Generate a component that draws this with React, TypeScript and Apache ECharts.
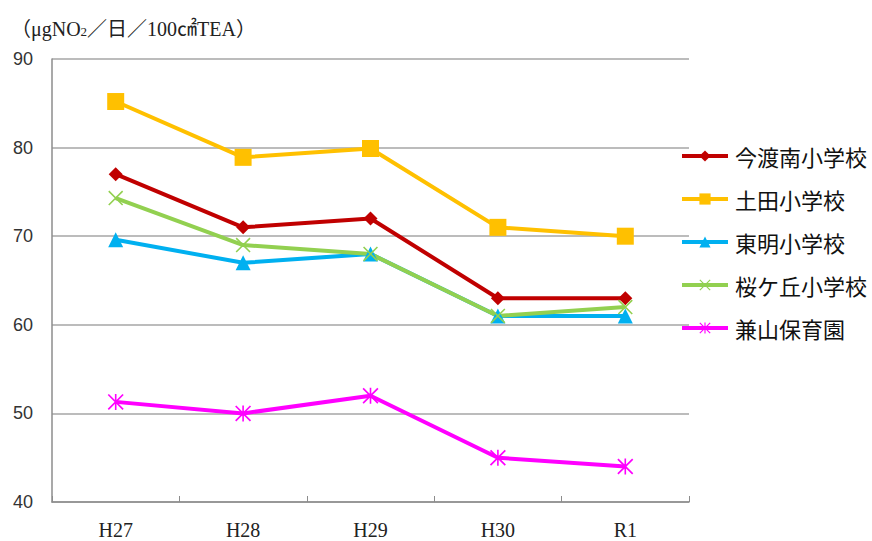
import React, { useEffect, useRef } from "react";
import * as echarts from "echarts";

const categories = ["H27", "H28", "H29", "H30", "R1"];
const seriesNames = ["今渡南小学校", "土田小学校", "東明小学校", "桜ケ丘小学校", "兼山保育園"];
const imawatariMinami = [77, 71, 72, 63, 63];
const tsuchida = [85.2, 78.9, 79.9, 71, 70];
const tomei = [69.6, 67, 68, 61, 61];
const sakuragaoka = [74.3, 69, 68, 61, 62];
const kaneyama = [51.3, 50, 52, 45, 44];
const yTicks = { min: 40, max: 90, interval: 10 };

const X_PATH =
  "path://M0,1.5L1.5,0L20,18.5L18.5,20ZM18.5,0L20,1.5L1.5,20L0,18.5Z";
const STAR_PATH =
  "path://M0,1.5L1.5,0L20,18.5L18.5,20ZM18.5,0L20,1.5L1.5,20L0,18.5ZM9,0L11,0L11,20L9,20Z";

export default function App() {
  const ref = useRef<HTMLDivElement>(null);
  useEffect(() => {
    if (!ref.current) return;
    const chart = echarts.init(ref.current, undefined, { renderer: "svg" });
    const mk = (name: string, data: number[], color: string, symbol: string, size: number) => ({
      name,
      type: "line",
      data,
      symbol,
      symbolSize: size,
      lineStyle: { color, width: 4 },
      itemStyle: { color },
      emphasis: { disabled: true },
    });
    chart.setOption({
      animation: false,
      title: {
        text: "（μgNO{s|2}／日／100㎠TEA）",
        left: 6,
        top: 14,
        padding: [5, 5, 5, 5],
        textStyle: {
          fontFamily: "'Liberation Serif', 'Noto Sans CJK JP', serif",
          fontSize: 20,
          fontWeight: "normal",
          color: "#222",
          rich: {
            s: {
              fontFamily: "'Liberation Serif', serif",
              fontSize: 13,
              color: "#222",
              padding: [6, 0, 0, 0],
            },
          },
        },
      },
      legend: {
        orient: "vertical",
        left: 680,
        top: 145,
        padding: 0,
        itemWidth: 46,
        itemHeight: 14,
        itemGap: 21,
        lineStyle: { width: 4 },
        textStyle: {
          fontFamily: "'Noto Sans CJK JP', sans-serif",
          fontSize: 22,
          color: "#111",
          padding: [0, 0, 0, 2],
        },
        data: seriesNames,
      },
      grid: { left: 52, right: 183, top: 59, bottom: 39, containLabel: false },
      xAxis: {
        type: "category",
        data: categories,
        boundaryGap: true,
        axisLine: { lineStyle: { color: "#8c8c8c", width: 1.5 } },
        axisTick: { show: true, inside: true, length: 6, lineStyle: { color: "#8c8c8c" } },
        axisLabel: {
          margin: 18,
          fontFamily: "'Liberation Serif', serif",
          fontSize: 20,
          color: "#222",
        },
      },
      yAxis: {
        type: "value",
        min: yTicks.min,
        max: yTicks.max,
        interval: yTicks.interval,
        axisLine: { show: true, lineStyle: { color: "#8c8c8c", width: 1.5 } },
        axisTick: { show: false },
        splitLine: { lineStyle: { color: "#a6a6a6", width: 1.5 } },
        axisLabel: {
          margin: 19,
          fontFamily: "'Liberation Sans', Arial, sans-serif",
          fontSize: 18,
          color: "#333",
        },
      },
      series: [
        mk(seriesNames[0], imawatariMinami, "#C00000", "diamond", 14),
        mk(seriesNames[1], tsuchida, "#FFC000", "rect", 17),
        mk(seriesNames[2], tomei, "#00B0F0", "triangle", 15),
        mk(seriesNames[3], sakuragaoka, "#92D050", X_PATH, 15),
        mk(seriesNames[4], kaneyama, "#FF00FF", STAR_PATH, 16),
      ],
    });
    return () => chart.dispose();
  }, []);
  return (
    <div
      ref={ref}
      style={{ position: "absolute", left: 0, top: 0, width: 872, height: 541, background: "#fff" }}
    />
  );
}
